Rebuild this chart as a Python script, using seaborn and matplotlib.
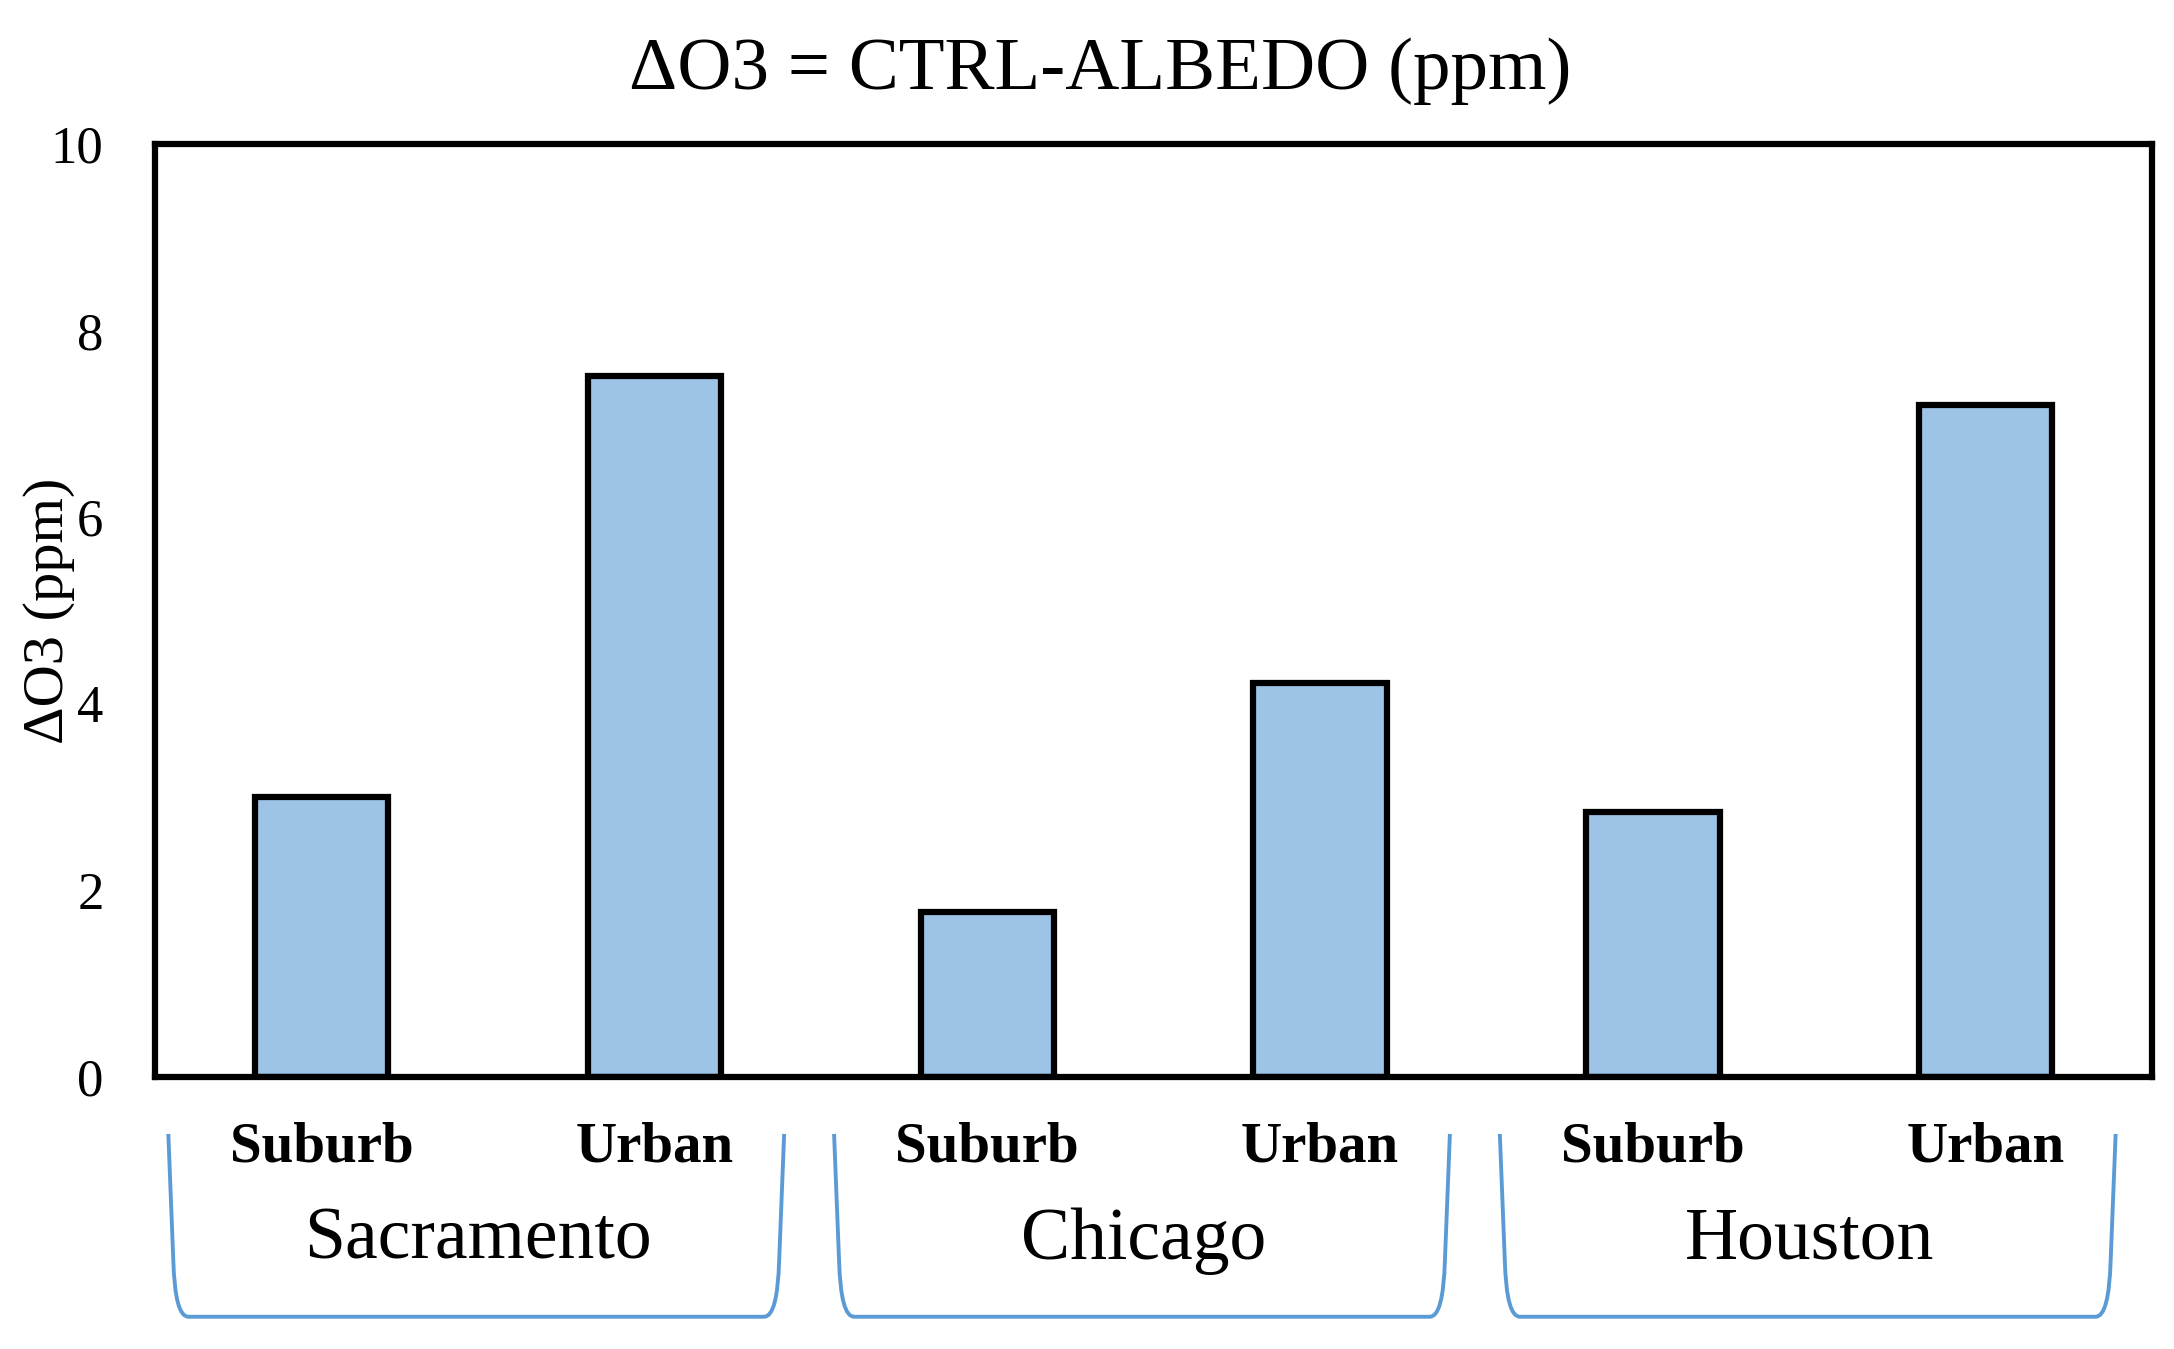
import numpy as np
import pandas as pd
import matplotlib
matplotlib.use("Agg")
import matplotlib.pyplot as plt
import matplotlib.transforms as mtransforms
from matplotlib.path import Path
from matplotlib.patches import PathPatch
import seaborn as sns

# dados
cities = ["Sacramento", "Chicago", "Houston"]
site_types = ["Suburb", "Urban"]
delta_o3 = [3.0, 7.52, 1.77, 4.22, 2.84, 7.21]

sns.set_theme(style="white")
plt.rcParams["font.family"] = ["Liberation Serif", "DejaVu Serif"]
plt.rcParams["text.color"] = "black"
plt.rcParams["axes.labelcolor"] = "black"
plt.rcParams["ytick.color"] = "black"

df = pd.DataFrame({
    "city": np.repeat(cities, len(site_types)),
    "site": site_types * len(cities),
    "value": delta_o3,
})
df["key"] = df["city"] + " " + df["site"]

fig = plt.figure(figsize=(21.74, 13.49), dpi=100)
ax = fig.add_axes([0.0713, 0.2016, 0.9187, 0.6914])

sns.barplot(data=df, x="key", y="value", color="#9DC3E6", edgecolor="black",
            linewidth=4.5, width=0.40, saturation=1, ax=ax)

ax.set_ylim(0, 10)
ax.set_xlim(-0.5, len(df) - 0.5)
ax.set_yticks(range(0, 11, 2))
ax.tick_params(axis="y", length=0, pad=37, labelsize=38)
ax.set_xticks([])
ax.set_xlabel("")
ax.set_ylabel("ΔO3 (ppm)", fontsize=42)
ax.yaxis.set_label_coords(-0.04, 0.5)
for sp in ax.spines.values():
    sp.set_visible(True)
    sp.set_color("black")
    sp.set_linewidth(4.5)

trans = mtransforms.blended_transform_factory(ax.transData, ax.transAxes)

# rótulos de tipo (Suburb / Urban)
for i, site in enumerate(df["site"]):
    ax.text(i, -0.076, site, transform=trans, ha="center", va="center",
            fontsize=41, fontweight="bold", clip_on=False)

# rótulos das cidades e colchetes
n = len(site_types)
ytop, ybot = -0.061, -0.257
for g, city in enumerate(cities):
    c = g * n + (n - 1) / 2
    ax.text(c - 0.03, -0.176, city, transform=trans, ha="center",
            va="center", fontsize=53, clip_on=False)
    x0, x1 = c - 0.96, c + 0.89
    verts = [(x0, ytop), (x0 + 0.015, ybot + 0.06), (x0 + 0.02, ybot),
             (x0 + 0.06, ybot), (x1 - 0.06, ybot), (x1 - 0.02, ybot),
             (x1 - 0.015, ybot + 0.06), (x1, ytop)]
    codes = [Path.MOVETO, Path.LINETO, Path.CURVE3, Path.CURVE3,
             Path.LINETO, Path.CURVE3, Path.CURVE3, Path.LINETO]
    ax.add_patch(PathPatch(Path(verts, codes), transform=trans, fill=False,
                           edgecolor="#5B9BD5", linewidth=2.8, clip_on=False))

fig.text(0.506, 0.947, "ΔO3 = CTRL-ALBEDO (ppm)", ha="center", va="center",
         fontsize=54)

fig.savefig("out.png", dpi=100)
